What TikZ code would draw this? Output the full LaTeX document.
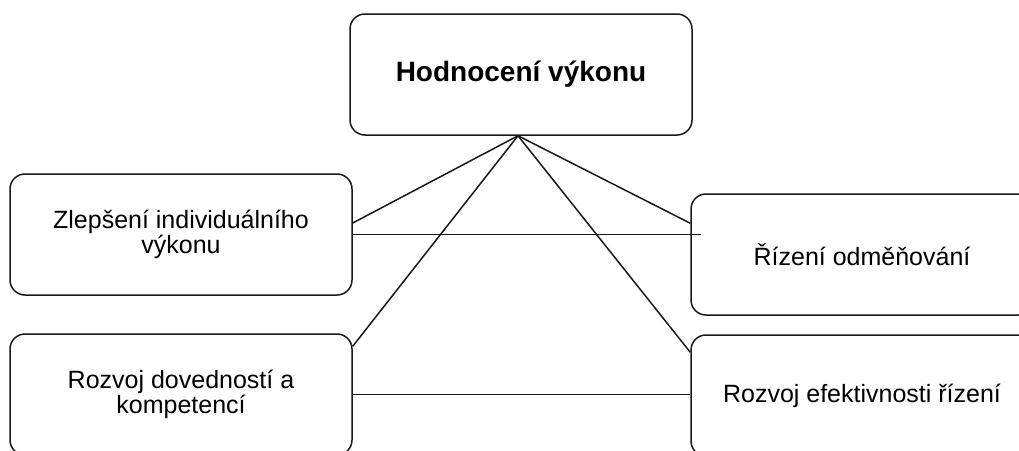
\documentclass[tikz,border=0pt]{standalone}
\usepackage{fontspec}
\setmainfont{Liberation Sans}
\usetikzlibrary{calc}

\tikzset{
  card/.style={draw=black!90, line width=1.5pt, rounded corners=15pt,
    minimum width=342pt, minimum height=121pt, inner sep=0pt,
    align=center, text=black,
    font=\fontsize{25}{25.5}\selectfont},
  headcard/.style={card, font=\fontsize{28}{29}\selectfont\bfseries},
  link/.style={draw=black!90, line width=1.5pt}
}

\begin{document}
\begin{tikzpicture}[x=1pt, y=-1pt]
  \clip (0,0) rectangle (1019,450);
  \fill[white] (0,0) rectangle (1019,450);

  % boxes
  \node[headcard] (top)  at (521,74.5)  {Hodnocení výkonu};
  \node[card]     (ltop) at (181,234.5) {Zlepšení individuálního\\výkonu};
  \node[card]     (rtop) at (862,254.5) {Řízení odměňování};
  \node[card]     (lbot) at (181,394.5) {Rozvoj dovedností a\\kompetencí};
  \node[card]     (rbot) at (862,395.5) {Rozvoj efektivnosti řízení};

  % connectors from the central box
  \coordinate (apex) at ($(top.south)+(-3,0)$);
  \draw[link] (apex) -- ($(ltop.east)+(0,-11.5)$);
  \draw[link] (apex) -- ($(rtop.north west)+(0,30)$);
  \draw[link] (apex) -- ($(lbot.north east)+(0,13)$);
  \draw[link] (apex) -- ($(rbot.north west)+(0,18)$);

  % horizontal links between the side boxes
  \draw[link] (ltop.east) -- ($(ltop.east -| rtop.west)+(11,0)$);
  \draw[link] (lbot.east) -- (lbot.east -| rbot.west);
\end{tikzpicture}
\end{document}
